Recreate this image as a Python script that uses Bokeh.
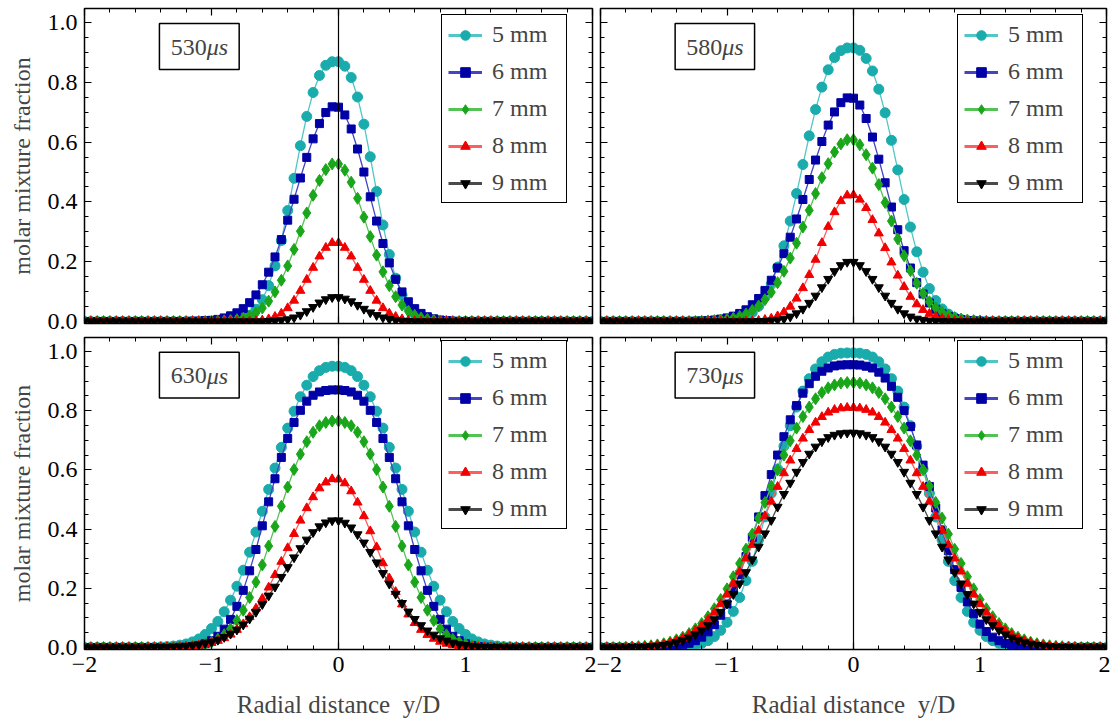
from bokeh.plotting import figure
from bokeh.layouts import gridplot
from bokeh.models import (Range1d, SingleIntervalTicker, LinearAxis, Span, Legend,
                          LegendItem, BoxAnnotation, Label, ColumnDataSource,
                          PrintfTickFormatter, CustomJSTickFormatter, CustomLabelingPolicy)
from bokeh.embed import file_html
from bokeh.resources import INLINE

# ---------------- data ----------------
x_vals = [-2.0, -1.95, -1.9, -1.85, -1.8, -1.75, -1.7, -1.65, -1.6, -1.55,
          -1.5, -1.45, -1.4, -1.35, -1.3, -1.25, -1.2, -1.15, -1.1, -1.05,
          -1.0, -0.95, -0.9, -0.85, -0.8, -0.75, -0.7, -0.65, -0.6, -0.55,
          -0.5, -0.45, -0.4, -0.35, -0.3, -0.25, -0.2, -0.15, -0.1, -0.05,
          0.0, 0.05, 0.1, 0.15, 0.2, 0.25, 0.3, 0.35, 0.4, 0.45,
          0.5, 0.55, 0.6, 0.65, 0.7, 0.75, 0.8, 0.85, 0.9, 0.95,
          1.0, 1.05, 1.1, 1.15, 1.2, 1.25, 1.3, 1.35, 1.4, 1.45,
          1.5, 1.55, 1.6, 1.65, 1.7, 1.75, 1.8, 1.85, 1.9, 1.95, 2.0]

# 530 us
y530_5mm = [0,0,0,0,0,0,0,0,0,0, 0,0,0,0,0,0,0,0,0,0, 0,0,
            0.001,0.002,0.005,0.010,0.021,0.041,0.073,0.120,0.186,0.271,0.371,0.479,0.588,0.686,0.766,0.823,0.857,0.869,
            0.869,0.854,0.816,0.751,0.660,0.551,0.435,0.323,0.224,0.145,0.088,0.049,0.025,0.012,0.005,0.002,0.001,
            0,0,0,0,0,0,0,0,0,0, 0,0,0,0,0,0,0,0,0,0, 0,0,0,0]
y530_6mm = [0,0,0,0,0,0,0,0,0,0, 0,0,0,0,0,0,0,
            0.001,0.001,0.003,0.004,0.007,0.012,0.019,0.029,0.043,0.063,0.089,0.123,0.165,0.216,0.274,0.339,0.409,0.480,0.549,0.611,0.662,0.699,0.718,
            0.717,0.691,0.644,0.577,0.500,0.417,0.336,0.261,0.196,0.141,0.099,0.066,0.043,0.027,0.016,0.009,0.005,0.003,0.001,
            0,0,0,0,0,0,0,0,0,0, 0,0,0,0,0,0,0,0,0,0, 0,0]
y530_7mm = [0,0,0,0,0,0,0,0,0,0, 0,0,0,0,0,0,0,0,0,0, 0,
            0.001,0.002,0.003,0.006,0.011,0.018,0.029,0.045,0.068,0.099,0.138,0.186,0.241,0.302,0.363,0.422,0.472,0.508,0.527,
            0.527,0.506,0.466,0.412,0.349,0.284,0.222,0.166,0.120,0.083,0.055,0.034,0.021,0.012,0.007,0.004,0.002,0.001,
            0,0,0,0,0,0,0,0,0,0, 0,0,0,0,0,0,0,0,0,0, 0,0,0]
y530_8mm = [0,0,0,0,0,0,0,0,0,0, 0,0,0,0,0,0,0,0,0,0, 0,0,0,0,0,0,
            0.001,0.002,0.004,0.008,0.016,0.027,0.045,0.070,0.103,0.140,0.180,0.218,0.247,0.263,
            0.263,0.247,0.218,0.180,0.140,0.103,0.070,0.045,0.027,0.016,0.008,0.004,0.002,0.001,
            0,0,0,0,0,0,0,0,0,0, 0,0,0,0,0,0,0,0,0,0, 0,0,0,0,0,0,0]
y530_9mm = [0,0,0,0,0,0,0,0,0,0, 0,0,0,0,0,0,0,0,0,0, 0,0,0,0,0,0,0,0,0,
            0.001,0.002,0.004,0.007,0.013,0.022,0.034,0.048,0.063,0.074,0.081,
            0.081,0.076,0.067,0.055,0.042,0.030,0.021,0.013,0.008,0.004,0.002,0.001,
            0,0,0,0,0,0,0,0,0,0, 0,0,0,0,0,0,0,0,0,0, 0,0,0,0,0,0,0,0,0]

# 580 us
y580_5mm = [0,0,0,0,0,0,0,0,0,0, 0,0,0,0,0,0,0,0,0,
            0.001,0.002,0.005,0.009,0.017,0.030,0.051,0.082,0.125,0.182,0.253,0.336,0.428,0.525,0.621,0.709,0.784,0.842,0.883,0.906,0.915,
            0.915,0.907,0.880,0.838,0.777,0.698,0.606,0.507,0.408,0.316,0.233,0.165,0.110,0.070,0.042,0.025,0.013,0.007,0.003,0.002,0.001,
            0,0,0,0,0,0,0,0,0,0, 0,0,0,0,0,0,0,0,0,0]
y580_6mm = [0,0,0,0,0,0,0,0,0,0, 0,0,0,0,0,
            0.001,0.002,0.003,0.005,0.008,0.012,0.018,0.027,0.039,0.056,0.077,0.104,0.138,0.179,0.227,0.282,0.343,0.408,0.475,0.540,0.602,0.657,0.701,0.732,0.748,
            0.747,0.724,0.679,0.617,0.543,0.464,0.383,0.307,0.237,0.179,0.130,0.092,0.062,0.041,0.026,0.017,0.010,0.006,0.003,0.002,0.001,
            0,0,0,0,0,0,0,0,0,0, 0,0,0,0,0,0,0,0,0,0]
y580_7mm = [0,0,0,0,0,0,0,0,0,0, 0,0,0,0,0,0,
            0.001,0.002,0.003,0.005,0.007,0.011,0.017,0.025,0.037,0.052,0.073,0.098,0.130,0.168,0.212,0.262,0.316,0.372,0.428,0.481,0.528,0.567,0.594,0.608,
            0.608,0.591,0.558,0.513,0.458,0.398,0.336,0.276,0.220,0.170,0.128,0.094,0.066,0.046,0.031,0.020,0.013,0.008,0.005,0.003,0.002,0.001,
            0,0,0,0,0,0,0,0,0,0, 0,0,0,0,0,0,0,0,0]
y580_8mm = [0,0,0,0,0,0,0,0,0,0, 0,0,0,0,0,0,0,0,0,0, 0,0,0,
            0.001,0.001,0.003,0.006,0.010,0.018,0.031,0.050,0.077,0.112,0.156,0.207,0.263,0.317,0.366,0.403,0.422,
            0.423,0.408,0.380,0.340,0.295,0.246,0.198,0.154,0.116,0.083,0.058,0.039,0.026,0.016,0.010,0.006,0.003,0.002,0.001,
            0,0,0,0,0,0,0,0,0,0, 0,0,0,0,0,0,0,0,0,0, 0,0]
y580_9mm = [0,0,0,0,0,0,0,0,0,0, 0,0,0,0,0,0,0,0,0,0, 0,0,0,0,0,
            0.001,0.001,0.003,0.005,0.009,0.016,0.027,0.042,0.062,0.086,0.114,0.142,0.168,0.188,0.199,
            0.199,0.188,0.168,0.142,0.114,0.086,0.062,0.042,0.027,0.016,0.009,0.005,0.003,0.001,0.001,
            0,0,0,0,0,0,0,0,0,0, 0,0,0,0,0,0,0,0,0,0, 0,0,0,0,0,0]

# 630 us
y630_5mm = [0,0,0,0,0,0,0,0,0,0, 0,
            0.001,0.002,0.003,0.005,0.008,0.012,0.019,0.029,0.044,0.064,0.088,0.121,0.160,0.207,0.261,0.322,0.390,0.460,0.534,0.606,0.676,0.741,0.798,0.847,0.886,0.915,0.935,0.946,0.950,
            0.950,0.946,0.935,0.915,0.886,0.847,0.798,0.741,0.676,0.606,0.534,0.460,0.390,0.322,0.261,0.207,0.160,0.121,0.088,0.064,0.044,0.029,0.019,0.012,0.008,0.005,0.003,0.002,0.001,
            0,0,0,0,0,0,0,0,0,0, 0,0]
y630_6mm = [0,0,0,0,0,0,0,0,0,0, 0,0,0,0,0,
            0.001,0.001,0.003,0.007,0.013,0.023,0.038,0.062,0.095,0.139,0.193,0.259,0.331,0.411,0.492,0.570,0.642,0.706,0.760,0.801,0.832,0.852,0.863,0.868,0.870,
            0.870,0.868,0.863,0.852,0.832,0.801,0.760,0.706,0.642,0.570,0.492,0.411,0.331,0.259,0.193,0.139,0.095,0.062,0.038,0.023,0.013,0.007,0.003,0.001,0.001,
            0,0,0,0,0,0,0,0,0,0, 0,0,0,0,0,0]
y630_7mm = [0,0,0,0,0,0,0,0,0,0, 0,0,0,0,0,
            0.001,0.002,0.004,0.006,0.011,0.018,0.028,0.043,0.063,0.091,0.126,0.169,0.221,0.279,0.343,0.409,0.477,0.542,0.601,0.653,0.695,0.727,0.749,0.760,0.765,
            0.765,0.760,0.749,0.727,0.695,0.653,0.601,0.542,0.477,0.409,0.343,0.279,0.221,0.169,0.126,0.091,0.063,0.043,0.028,0.018,0.011,0.006,0.004,0.002,0.001,
            0,0,0,0,0,0,0,0,0,0, 0,0,0,0,0,0]
y630_8mm = [0,0,0,0,0,0,0,0,0,0, 0,0,0,
            0.001,0.001,0.002,0.003,0.005,0.007,0.011,0.016,0.023,0.032,0.044,0.060,0.079,0.103,0.132,0.165,0.203,0.245,0.290,0.336,0.384,0.429,0.471,0.508,0.538,0.558,0.569,
            0.568,0.555,0.528,0.490,0.444,0.393,0.339,0.285,0.234,0.188,0.146,0.112,0.083,0.060,0.043,0.030,0.020,0.013,0.008,0.005,0.003,0.002,0.001,0.001,
            0,0,0,0,0,0,0,0,0,0, 0,0,0,0,0,0,0]
y630_9mm = [0,0,0,0,0,0,0,0,0,0, 0,
            0.001,0.001,0.001,0.002,0.003,0.005,0.007,0.010,0.014,0.019,0.026,0.035,0.046,0.060,0.077,0.097,0.120,0.146,0.175,0.205,0.238,0.271,0.304,0.335,0.364,0.389,0.409,0.422,0.429,
            0.429,0.421,0.405,0.382,0.354,0.322,0.287,0.251,0.215,0.181,0.150,0.121,0.096,0.075,0.057,0.043,0.031,0.023,0.016,0.011,0.008,0.005,0.003,0.002,0.001,0.001,
            0,0,0,0,0,0,0,0,0,0, 0,0,0,0,0]

# 730 us
y730_5mm = [0,0,0,0,0,0,0,0,0,0, 0,0,
            0.001,0.002,0.004,0.008,0.014,0.023,0.037,0.058,0.085,0.122,0.169,0.226,0.291,0.364,0.441,0.521,0.603,0.680,0.749,0.812,0.866,0.908,0.941,0.965,0.981,0.990,0.994,0.995,
            0.995,0.994,0.990,0.981,0.965,0.941,0.908,0.866,0.812,0.749,0.680,0.603,0.521,0.441,0.364,0.291,0.226,0.169,0.122,0.085,0.058,0.037,0.023,0.014,0.008,0.004,0.002,0.001,
            0,0,0,0,0,0,0,0,0,0, 0,0,0]
y730_6mm = [0,0,0,0,0,0,0,0,0,
            0.001,0.001,0.003,0.005,0.009,0.014,0.023,0.035,0.053,0.077,0.109,0.147,0.193,0.246,0.307,0.372,0.441,0.513,0.584,0.650,0.712,0.769,0.817,0.859,0.891,0.916,0.933,0.944,0.951,0.954,0.955,
            0.955,0.954,0.950,0.944,0.930,0.910,0.882,0.845,0.800,0.746,0.684,0.616,0.544,0.471,0.397,0.327,0.263,0.203,0.154,0.114,0.079,0.054,0.035,0.023,0.014,0.008,0.004,0.002,0.001,
            0,0,0,0,0,0,0,0,0,0, 0,0]
y730_7mm = [0,0,0,0,
            0.001,0.002,0.003,0.004,0.006,0.009,0.013,0.018,0.026,0.035,0.047,0.063,0.081,0.104,0.131,0.162,0.198,0.239,0.284,0.332,0.383,0.437,0.490,0.545,0.600,0.650,0.698,0.741,0.780,0.812,0.840,0.861,0.877,0.887,0.893,0.895,
            0.895,0.893,0.887,0.877,0.861,0.840,0.812,0.780,0.741,0.698,0.650,0.600,0.545,0.490,0.437,0.383,0.332,0.284,0.239,0.198,0.162,0.131,0.104,0.081,0.063,0.047,0.035,0.026,0.018,0.013,0.009,0.006,0.004,0.003,0.002,0.001,
            0,0,0,0,0]
y730_8mm = [0,0,0,0,
            0.001,0.002,0.002,0.004,0.005,0.008,0.011,0.016,0.023,0.032,0.043,0.057,0.074,0.094,0.118,0.147,0.179,0.216,0.257,0.301,0.347,0.395,0.444,0.493,0.543,0.589,0.632,0.671,0.706,0.735,0.760,0.779,0.794,0.803,0.808,0.810,
            0.810,0.808,0.803,0.794,0.779,0.760,0.735,0.706,0.671,0.632,0.589,0.543,0.493,0.444,0.395,0.347,0.301,0.257,0.216,0.179,0.147,0.118,0.094,0.074,0.057,0.043,0.032,0.023,0.016,0.011,0.008,0.005,0.004,0.002,0.002,0.001,
            0,0,0,0,0]
y730_9mm = [0,0,0,0,0,
            0.001,0.002,0.002,0.004,0.006,0.008,0.012,0.017,0.024,0.033,0.044,0.058,0.075,0.095,0.120,0.148,0.180,0.216,0.254,0.297,0.340,0.385,0.430,0.475,0.518,0.556,0.593,0.626,0.654,0.678,0.696,0.710,0.718,0.723,0.725,
            0.725,0.723,0.718,0.710,0.696,0.678,0.654,0.626,0.593,0.556,0.518,0.475,0.430,0.385,0.340,0.297,0.254,0.216,0.180,0.148,0.120,0.095,0.075,0.058,0.044,0.033,0.024,0.017,0.012,0.008,0.006,0.004,0.002,0.002,0.001,
            0,0,0,0,0,0]

time_labels = ["530", "580", "630", "730"]
series_labels = ["5 mm", "6 mm", "7 mm", "8 mm", "9 mm"]

panel_series = [
    [y530_5mm, y530_6mm, y530_7mm, y530_8mm, y530_9mm],
    [y580_5mm, y580_6mm, y580_7mm, y580_8mm, y580_9mm],
    [y630_5mm, y630_6mm, y630_7mm, y630_8mm, y630_9mm],
    [y730_5mm, y730_6mm, y730_7mm, y730_8mm, y730_9mm],
]
for ser in panel_series:
    for s in ser:
        assert len(s) == len(x_vals), len(s)

# ---------------- style ----------------
FONT = "Liberation Serif"
FS = "24px"
marker_colors = ["#1AACAC", "#0000A6", "#1AA61A", "#F00000", "#000000"]
line_colors = ["#52C6C6", "#4545C2", "#55C255", "#FF5E5E", "#4A4A4A"]
markers = ["circle", "square", "diamond", "triangle", "inverted_triangle"]
marker_sizes = [10, 8, 12, 9, 9]

NO_LABELS = "const ids = Array.from(indices); for (const i of ids) { indices.unset(i) } return indices;"


def style_axis(ax, show_labels, ticker, formatter):
    ax.ticker = ticker
    ax.formatter = formatter
    ax.major_tick_in = 7
    ax.major_tick_out = 0
    ax.minor_tick_in = 4
    ax.minor_tick_out = 0
    ax.axis_line_color = "black"
    ax.major_tick_line_color = "black"
    ax.minor_tick_line_color = "black"
    ax.major_tick_line_width = 1.2
    ax.minor_tick_line_width = 1
    ax.major_label_text_font = FONT
    ax.major_label_text_color = "black"
    if show_labels:
        ax.major_label_text_font_size = FS
        ax.major_label_standoff = 7
    else:
        ax.major_label_text_font_size = "1px"
        ax.major_label_standoff = 0
        ax.major_label_policy = CustomLabelingPolicy(code=NO_LABELS)


def xticker():
    return SingleIntervalTicker(interval=1, num_minor_ticks=5)


def yticker():
    return SingleIntervalTicker(interval=0.2, num_minor_ticks=4)


def xfmt():
    return CustomJSTickFormatter(code="return tick < 0 ? '\u2212' + Math.abs(tick).toFixed(0) : tick.toFixed(0);")


def yfmt():
    return PrintfTickFormatter(format="%.1f")


def make_panel(idx, left, bottom):
    w = 596 if left else 514
    h = 389 if bottom else 333
    p = figure(width=w, height=h, output_backend="svg", toolbar_location=None,
               x_range=Range1d(-2, 2), y_range=Range1d(-0.0067, 1.047),
               min_border_left=84 if left else 2, min_border_right=3,
               min_border_top=1 if bottom else 8,
               min_border_bottom=73 if bottom else 10)
    p.xgrid.visible = False
    p.ygrid.visible = False
    p.outline_line_color = "black"
    p.outline_line_width = 1.5
    p.background_fill_color = "white"
    p.border_fill_color = "white"

    style_axis(p.xaxis[0], bottom, xticker(), xfmt())
    style_axis(p.yaxis[0], left, yticker(), yfmt())
    if left:
        p.yaxis[0].axis_label = "molar mixture fraction"
        p.yaxis[0].axis_label_text_font = FONT
        p.yaxis[0].axis_label_text_font_size = FS
        p.yaxis[0].axis_label_text_font_style = "normal"
        p.yaxis[0].axis_label_standoff = 10
    if bottom:
        p.xaxis[0].axis_label = "Radial distance \u00a0y/D"
        p.xaxis[0].axis_label_text_font = FONT
        p.xaxis[0].axis_label_text_font_size = "25px"
        p.xaxis[0].axis_label_text_font_style = "normal"
        p.xaxis[0].axis_label_standoff = 16

    top_ax = LinearAxis()
    style_axis(top_ax, False, xticker(), xfmt())
    p.add_layout(top_ax, "above")
    right_ax = LinearAxis()
    style_axis(right_ax, False, yticker(), yfmt())
    p.add_layout(right_ax, "right")

    for i, y in enumerate(panel_series[idx]):
        src = ColumnDataSource(dict(x=x_vals, y=y))
        p.line("x", "y", source=src, line_color=line_colors[i], line_width=1.3)
        p.scatter("x", "y", source=src, marker=markers[i], size=marker_sizes[i],
                  fill_color=marker_colors[i], line_color=marker_colors[i])

    items = []
    for i, name in enumerate(series_labels):
        blank = ColumnDataSource(dict(x=[float("nan")], y=[float("nan")]))
        lr = p.line("x", "y", source=blank, line_color=line_colors[i], line_width=3)
        sr = p.scatter("x", "y", source=blank, marker=markers[i], size=marker_sizes[i],
                       fill_color=marker_colors[i], line_color=marker_colors[i])
        items.append(LegendItem(label=name, renderers=[lr, sr]))
    legend = Legend(items=items, location=(357, 120), margin=0, padding=6,
                    spacing=10, glyph_width=34, glyph_height=24, label_height=24,
                    label_width=68, label_standoff=10,
                    label_text_font=FONT, label_text_font_size=FS,
                    border_line_color="black", border_line_width=1.5, border_line_alpha=1,
                    background_fill_color="white", background_fill_alpha=1)
    p.add_layout(legend)

    p.add_layout(Span(location=0, dimension="height", line_color="black", line_width=1.2))

    p.add_layout(BoxAnnotation(left=-1.41, right=-0.782, bottom=0.843, top=0.997,
                               fill_color="white", fill_alpha=1,
                               line_color="black", line_alpha=1, line_width=1.5))
    p.add_layout(Label(x=-1.037, y=0.918, text=time_labels[idx], text_align="right",
                       text_baseline="middle", text_font=FONT, text_font_size=FS))
    p.add_layout(Label(x=-1.037, y=0.918, text="\u03bcs", text_align="left",
                       text_baseline="middle", text_font=FONT, text_font_size=FS,
                       text_font_style="italic"))
    return p


p1 = make_panel(0, True, False)
p2 = make_panel(1, False, False)
p3 = make_panel(2, True, True)
p4 = make_panel(3, False, True)

grid = gridplot([[p1, p2], [p3, p4]], toolbar_location=None)

open("out.html", "w").write(file_html(grid, INLINE, "molar mixture fraction"))
